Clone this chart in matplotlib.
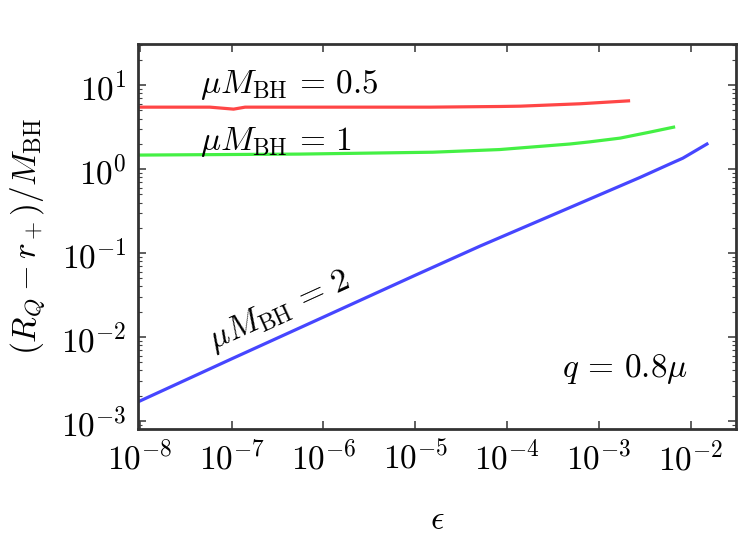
import matplotlib
matplotlib.use("Agg")
import matplotlib.pyplot as plt
import numpy as np

plt.rcParams['mathtext.fontset'] = 'cm'
plt.rcParams['font.family'] = 'serif'
plt.rcParams['font.serif'] = ['cmr10', 'DejaVu Serif']
plt.rcParams['axes.formatter.use_mathtext'] = True
plt.rcParams['axes.unicode_minus'] = False

# Data
eps_red = [1e-8, 5.8e-8, 1.05e-7, 1.4e-7, 1.2e-6, 1.45e-5, 8.3e-5, 1.4e-4, 6.2e-4, 2.1e-3]
val_red = [5.47, 5.47, 5.18, 5.47, 5.47, 5.47, 5.57, 5.62, 6.0, 6.5]

eps_green = [1e-8, 5.5e-7, 1.55e-5, 8.3e-5, 4.8e-4, 7.9e-4, 1.7e-3, 3.6e-3, 6.5e-3]
val_green = [1.47, 1.51, 1.59, 1.71, 1.99, 2.11, 2.34, 2.76, 3.16]

eps_blue = [1e-8, 1e-7, 1e-6, 1e-5, 5.06e-5, 3.76e-4, 2.8e-3, 5.9e-3, 8.2e-3, 1.5e-2]
val_blue = [1.73e-3, 5.5e-3, 1.73e-2, 5.45e-2, 0.121, 0.31, 0.796, 1.15, 1.35, 1.99]

fig = plt.figure(figsize=(7.5, 5.46), dpi=100)
ax = fig.add_axes([0.184, 0.2143, 0.797, 0.7051])

lw = 2.3
ax.plot(eps_red, val_red, color='#ff4646', lw=lw)
ax.plot(eps_green, val_green, color='#44f044', lw=lw)
ax.plot(eps_blue, val_blue, color='#4646ff', lw=lw)

ax.set_xscale('log')
ax.set_yscale('log')
ax.set_xlim(10**-8.02, 10**-1.51)
ax.set_ylim(10**-3.095, 10**1.49)

ax.set_xticks([1e-8, 1e-7, 1e-6, 1e-5, 1e-4, 1e-3, 1e-2])
ax.set_yticks([1e-3, 1e-2, 1e-1, 1, 10])

fs = 24
ax.tick_params(which='both', direction='in', top=True, right=True, labelsize=fs, colors='#444444', labelcolor='black')
ax.tick_params(which='major', length=6, width=1.2, pad=8)
ax.tick_params(which='minor', length=3, width=0.8)
for s in ax.spines.values():
    s.set_linewidth(2.0)
    s.set_color('#333333')

ax.set_xlabel(r'$\epsilon$', fontsize=fs)
ax.xaxis.set_label_coords(0.5, -0.2)
ax.set_ylabel(r'$(R_Q - r_+)/M_{\rm BH}$', fontsize=fs)
ax.yaxis.set_label_coords(-0.152, 0.5)

ax.text(10**-7.35, 8.0, r'$\mu M_{\rm BH}\,=\,0.5$', fontsize=fs, ha='left', va='baseline')
ax.text(10**-7.35, 1.68, r'$\mu M_{\rm BH}\,=\,1$', fontsize=fs, ha='left', va='baseline')
ax.text(10**-7.2, 7.0e-3, r'$\mu M_{\rm BH}\,=\,2$', fontsize=fs, ha='left', va='baseline',
        rotation=24.5, rotation_mode='anchor')
ax.text(10**-3.40, 3.34e-3, r'$q\,=\,0.8\mu$', fontsize=fs, ha='left', va='baseline')

fig.savefig('out.png', dpi=100)
